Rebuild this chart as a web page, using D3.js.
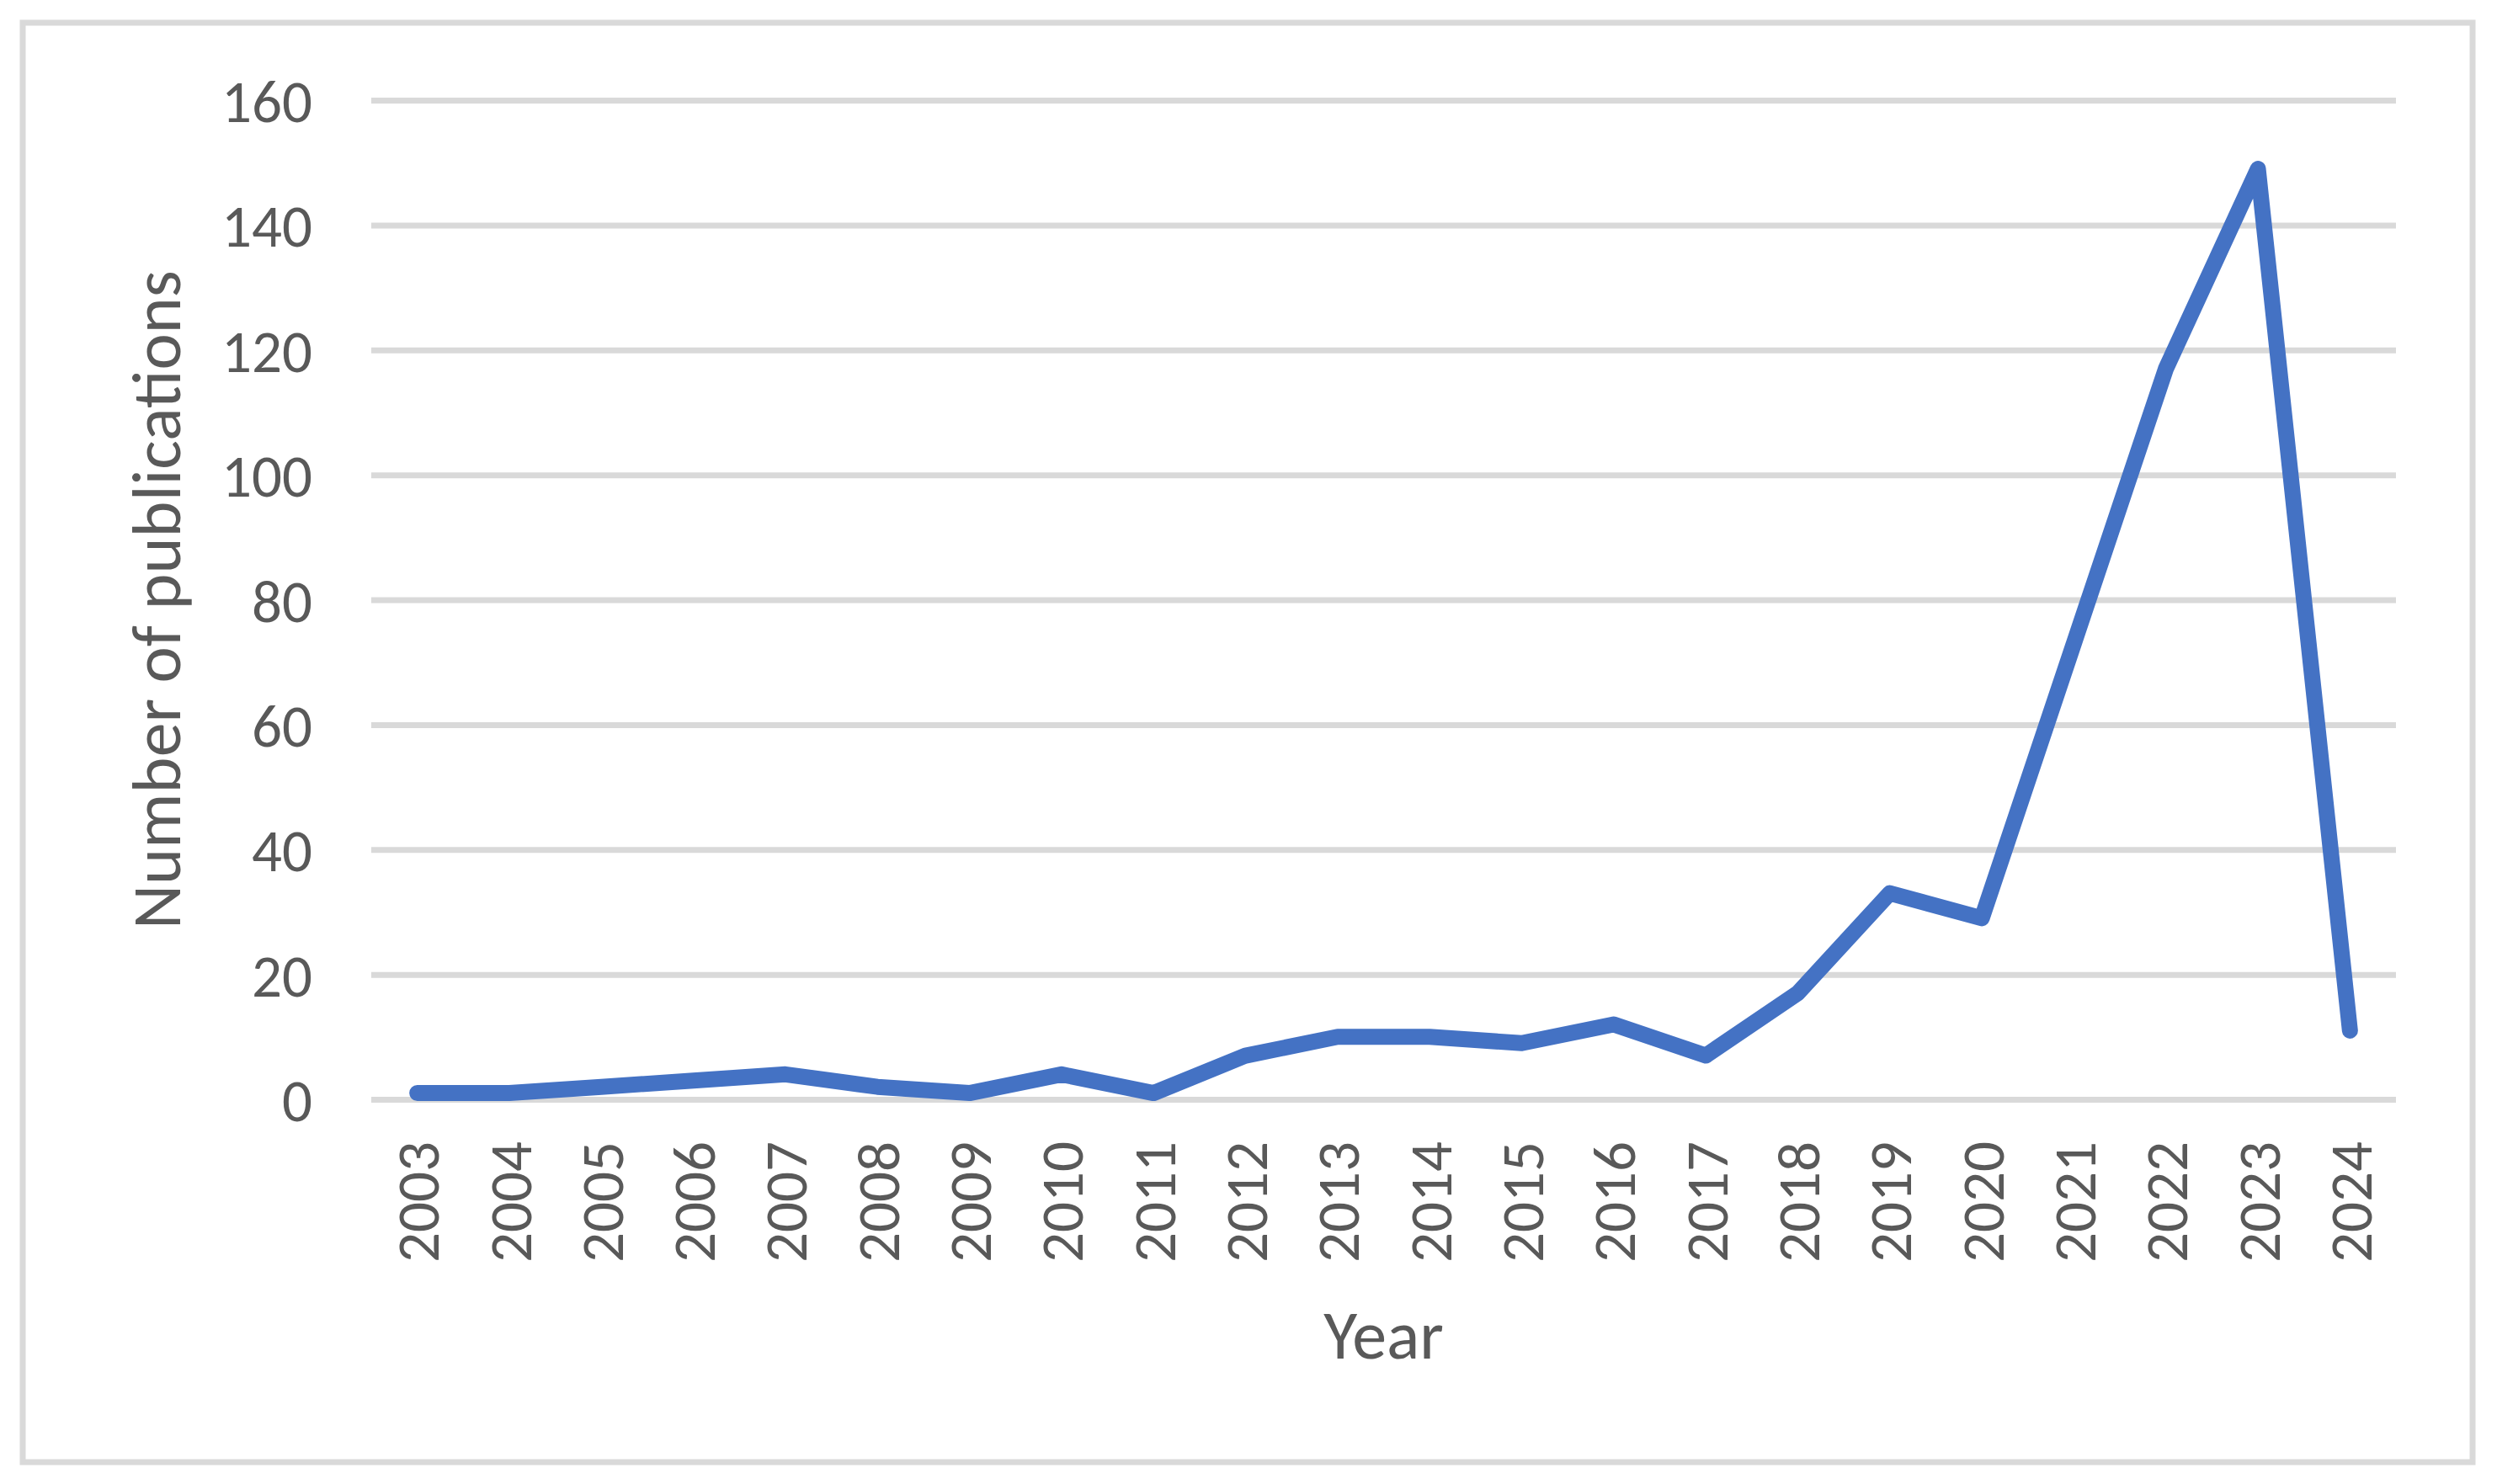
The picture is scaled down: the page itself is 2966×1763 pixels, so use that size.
<!DOCTYPE html>
<html>
<head>
<meta charset="utf-8">
<script src="https://cdn.jsdelivr.net/npm/d3@7"></script>
<style>
  html, body { margin: 0; padding: 0; background: #ffffff; }
  svg { display: block; }
  text { font-family: Carlito, Lato, "Liberation Sans", sans-serif; fill: #595959; }
</style>
</head>
<body>
<svg id="chart" width="2966" height="1763"></svg>
<script>
const years = ["2003","2004","2005","2006","2007","2008","2009","2010","2011","2012","2013","2014","2015","2016","2017","2018","2019","2020","2021","2022","2023","2024"];
const publications = [1,1,2,3,4,2,1,4,1,7,10,10,9,12,7,17,33,29,73,117,149,11];
const yTicks = [0,20,40,60,80,100,120,140,160];
const xTitle = "Year";
const yTitle = "Number of publications";

const W = 2966, H = 1763;
const plot = { left: 441, right: 2846, top: 119, bottom: 1306 };

const svg = d3.select("#chart");

// outer frame
svg.append("rect")
  .attr("x", 27).attr("y", 27)
  .attr("width", 2910).attr("height", 1710)
  .attr("fill", "#ffffff")
  .attr("stroke", "#d9d9d9").attr("stroke-width", 7);

const x = d3.scaleBand().domain(years).range([plot.left, plot.right]).padding(0);
const y = d3.scaleLinear().domain([0, 160]).range([plot.bottom, plot.top]);

// gridlines + y labels
const yAxis = d3.axisLeft(y)
  .tickValues(yTicks)
  .tickSize(-(plot.right - plot.left))
  .tickPadding(70)
  .tickFormat(d3.format("d"));
const gy = svg.append("g").attr("transform", `translate(${plot.left},0)`).call(yAxis);
gy.select(".domain").remove();
gy.selectAll(".tick line").attr("stroke", "#d9d9d9").attr("stroke-width", 7);
gy.selectAll(".tick text")
  .attr("font-size", 71)
  .attr("fill", "#595959")
  .attr("dy", "0.36em");

// x labels
const xAxis = d3.axisBottom(x).tickSize(0).tickPadding(0);
const gx = svg.append("g").attr("transform", `translate(0,${plot.bottom})`).call(xAxis);
gx.select(".domain").remove();
gx.selectAll(".tick text")
  .attr("font-size", 71)
  .attr("fill", "#595959")
  .attr("text-anchor", "end")
  .attr("transform", "translate(0,50) rotate(-90)")
  .attr("x", 0).attr("y", 0)
  .attr("dy", "0.36em");

// line
const line = d3.line()
  .x((d, i) => x(years[i]) + x.bandwidth() / 2)
  .y(d => y(d));
svg.append("path")
  .datum(publications)
  .attr("d", line)
  .attr("fill", "none")
  .attr("stroke", "#4472C4")
  .attr("stroke-width", 19)
  .attr("stroke-linecap", "round")
  .attr("stroke-linejoin", "round");

// axis titles
svg.append("text")
  .attr("x", (plot.left + plot.right) / 2)
  .attr("y", 1614)
  .attr("text-anchor", "middle")
  .attr("font-size", 82)
  .text(xTitle);

svg.append("text")
  .attr("transform", `translate(214,${(plot.top + plot.bottom) / 2}) rotate(-90)`)
  .attr("text-anchor", "middle")
  .attr("font-size", 82)
  .text(yTitle);
</script>
</body>
</html>
